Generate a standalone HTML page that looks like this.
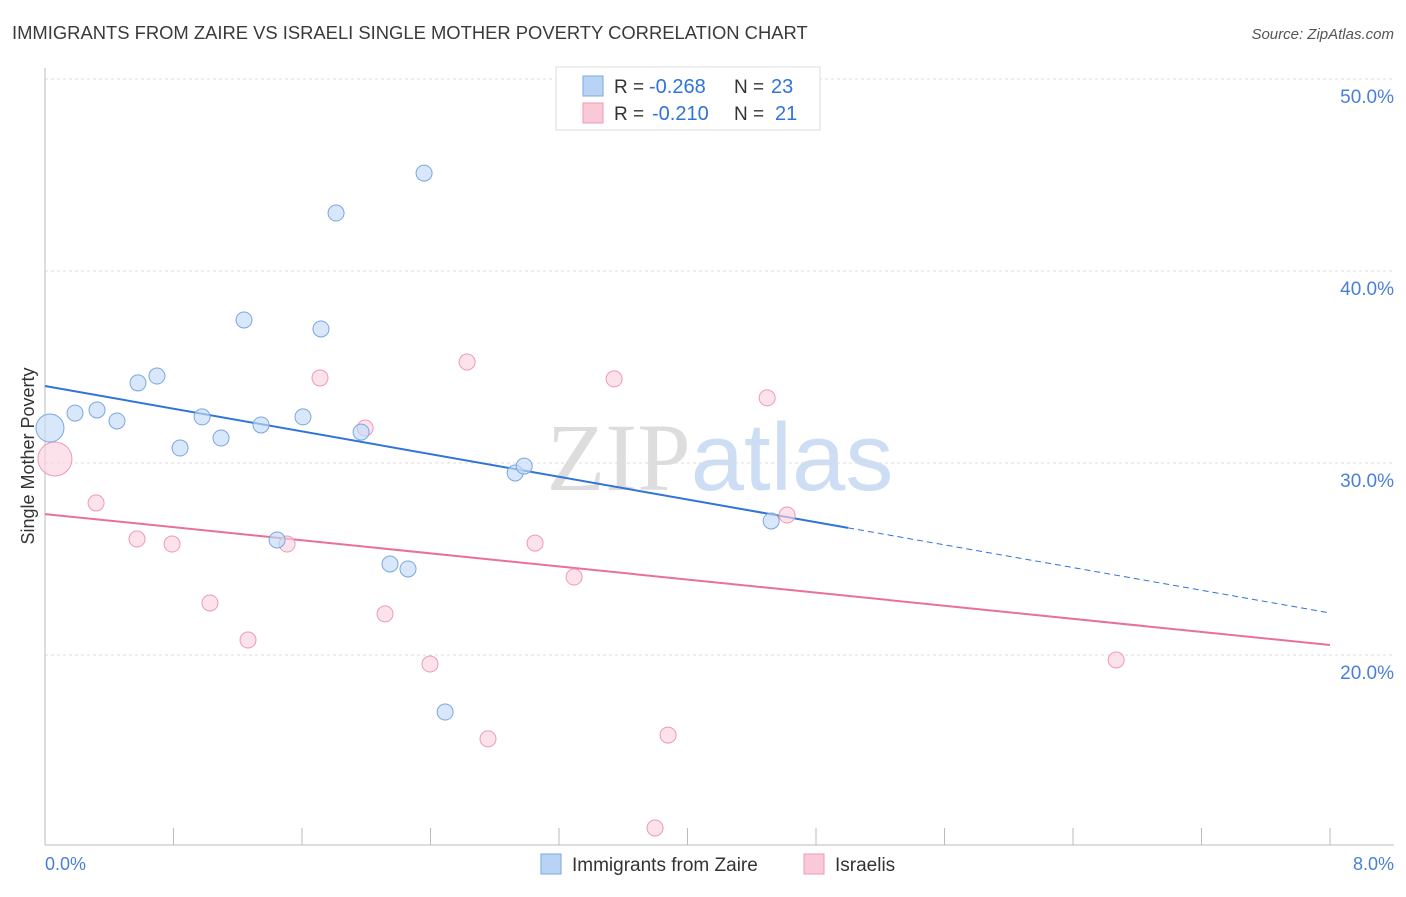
<!DOCTYPE html>
<html><head><meta charset="utf-8"><style>
body{margin:0;background:#fff;font-family:"Liberation Sans",sans-serif;}
svg text{font-family:"Liberation Sans",sans-serif;}
</style></head><body>
<svg id="chart" width="1406" height="892" xmlns="http://www.w3.org/2000/svg">
<text x="12" y="39" font-size="18.4" fill="#3a3a3a">IMMIGRANTS FROM ZAIRE VS ISRAELI SINGLE MOTHER POVERTY CORRELATION CHART</text>
<text x="1394" y="39" font-size="15" fill="#555" font-style="italic" text-anchor="end">Source: ZipAtlas.com</text>
<text x="720" y="490" font-size="96" text-anchor="middle" fill="#d8d8d8" opacity="0.7"><tspan font-family="Liberation Serif" fill="#cfcfcf">ZIP</tspan><tspan fill="#b9d0ee">atlas</tspan></text>
<g id="grid"></g>
<g id="axes"></g>
<g id="lines"></g>
<g id="points"></g>
<text transform="translate(34,456) rotate(-90)" font-size="18" fill="#333" text-anchor="middle">Single Mother Poverty</text>
<text x="45" y="870" font-size="18" fill="#4a7fd6">0.0%</text>
<text x="1394" y="870" font-size="18" fill="#4a7fd6" text-anchor="end">8.0%</text>
<g>
<rect x="556" y="67" width="264" height="63" fill="#fff" stroke="#ddd"/>
<rect x="583" y="76" width="20" height="20" fill="#b9d3f5" stroke="#7aa7e0"/>
<rect x="583" y="103" width="20" height="20" fill="#f9c9d8" stroke="#ee9ab4"/>
<text x="614" y="93" font-size="19" fill="#333">R =</text>
<text x="649" y="93" font-size="20" fill="#2f74d8">-0.268</text>
<text x="734" y="93" font-size="19" fill="#333">N =</text>
<text x="771" y="93" font-size="20" fill="#2f74d8">23</text>
<text x="614" y="120" font-size="19" fill="#333">R =</text>
<text x="652" y="120" font-size="20" fill="#2f74d8">-0.210</text>
<text x="734" y="120" font-size="19" fill="#333">N =</text>
<text x="775" y="120" font-size="20" fill="#2f74d8">21</text>
</g>
<g>
<rect x="541" y="854" width="20" height="20" fill="#b9d3f5" stroke="#7aa7e0"/>
<text x="572" y="871" font-size="19" fill="#333">Immigrants from Zaire</text>
<rect x="804" y="854" width="20" height="20" fill="#f9c9d8" stroke="#ee9ab4"/>
<text x="835" y="871" font-size="19" fill="#333">Israelis</text>
</g>
</svg>
<script>
const yTicks=[20,30,40,50];
const yTickLabels=["20.0%","30.0%","40.0%","50.0%"];
const blueX=[0.031,0.187,0.324,0.448,0.579,0.697,0.841,0.978,1.096,1.239,1.345,1.445,1.606,1.718,1.812,1.968,2.148,2.260,2.360,2.491,2.927,2.983,4.521];
const blueY=[31.82,32.60,32.76,32.19,34.17,34.53,30.78,32.40,31.30,37.45,31.98,25.99,32.40,36.98,43.02,31.61,24.74,24.48,45.10,17.03,29.48,29.84,26.98];
const blueSize=[14,8,8,8,8,8,8,8,8,8,8,8,8,8,8,8,8,8,8,8,8,8,8];
const pinkX=[0.062,0.318,0.573,0.791,1.027,1.264,1.507,1.712,1.993,2.117,2.397,2.628,2.758,3.051,3.294,3.543,3.798,3.879,4.496,4.620,6.669];
const pinkY=[30.21,27.92,26.04,25.78,22.71,20.78,25.78,34.43,31.82,22.14,19.53,35.26,15.63,25.83,24.06,34.38,10.99,15.83,33.39,27.29,19.74];
const pinkSize=[17,8,8,8,8,8,8,8,8,8,8,8,8,8,8,8,8,8,8,8,8];
const blueTrend=[34.01,22.19];
const pinkTrend=[27.34,20.52];
const blueSolidEnd=5.0;
const NS="http://www.w3.org/2000/svg";
const X=v=>45+v*160.625, Y=v=>655-(v-20)*19.2;
function mk(t,a,p){const e=document.createElementNS(NS,t);for(const k in a)e.setAttribute(k,a[k]);document.getElementById(p).appendChild(e);return e;}
yTicks.forEach((t,i)=>{
 const l=mk('line',{x1:45,x2:1394,y1:Y(t),y2:Y(t),stroke:'#ddd','stroke-dasharray':'3,3'},'grid');
 
 
 const tx=mk('text',{x:1394,y:Y(t)+24,'font-size':19,fill:'#4a7fd6','text-anchor':'end'},'grid');
 tx.textContent=yTickLabels[i];
 
 
});
const ax=mk('line',{x1:45,x2:45,y1:68,y2:845,stroke:'#bbb'},'axes');


const bx=mk('line',{x1:45,x2:1394,y1:845,y2:845,stroke:'#bbb'},'axes');


for(let i=0;i<=10;i++){const t=mk('line',{x1:X(i*0.8),x2:X(i*0.8),y1:828,y2:845,stroke:'#bbb'},'axes');
 
 }
const tb=v=>blueTrend[0]+(blueTrend[1]-blueTrend[0])*v/8, tp=v=>pinkTrend[0]+(pinkTrend[1]-pinkTrend[0])*v/8;
const l1=mk('line',{x1:X(0),y1:Y(tb(0)),x2:X(blueSolidEnd),y2:Y(tb(blueSolidEnd)),stroke:'#2f74d8','stroke-width':2},'lines');


const l2=mk('line',{x1:X(blueSolidEnd),y1:Y(tb(blueSolidEnd)),x2:X(8),y2:Y(tb(8)),stroke:'#2f74d8','stroke-width':1,'stroke-dasharray':'6,4'},'lines');


const l3=mk('line',{x1:X(0),y1:Y(tp(0)),x2:X(8),y2:Y(tp(8)),stroke:'#e8709a','stroke-width':2},'lines');


pinkX.forEach((v,i)=>{const c=mk('circle',{cx:X(v),cy:Y(pinkY[i]),r:pinkSize[i],fill:'#fad3e0','fill-opacity':0.65,stroke:'#ee9ab4'},'points');
 
 });
blueX.forEach((v,i)=>{const c=mk('circle',{cx:X(v),cy:Y(blueY[i]),r:blueSize[i],fill:'#c3daf7','fill-opacity':0.65,stroke:'#7aa7e0'},'points');
 
 });
</script>
</body></html>
